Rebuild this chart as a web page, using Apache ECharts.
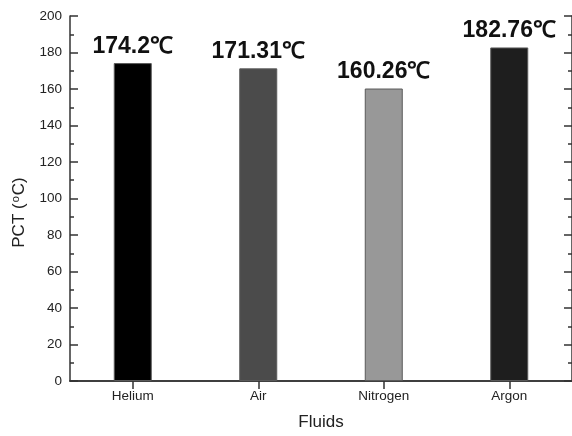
<!DOCTYPE html>
<html>
<head>
<meta charset="utf-8">
<script src="https://cdn.jsdelivr.net/npm/echarts@6/dist/echarts.min.js"></script>
<style>
html,body{margin:0;padding:0;background:#fff;}
#chart{width:572px;height:436px;}
</style>
</head>
<body>
<div id="chart"></div>
<script>
const categories = ["Helium", "Air", "Nitrogen", "Argon"];
const pctValues = [174.2, 171.31, 160.26, 182.76];
const valueLabels = ["174.2℃", "171.31℃", "160.26℃", "182.76℃"];
const barColors = ["#000000", "#4b4b4b", "#989898", "#1e1e1e"];
const yTicks = { min: 0, max: 200, interval: 20 };

const chart = echarts.init(document.getElementById('chart'), null, {renderer: 'canvas'});
const axisColor = '#333';
const font = '"Liberation Sans", Arial, sans-serif';

chart.setOption({
  animation: false,
  backgroundColor: '#fff',
  grid: { left: 70, right: 0, top: 16, bottom: 50, containLabel: false },
  xAxis: [{
    type: 'category',
    data: categories,
    name: 'Fluids',
    nameLocation: 'middle',
    nameGap: 33,
    nameTextStyle: { fontFamily: font, fontSize: 17, color: '#222' },
    axisLine: { show: true, lineStyle: { color: axisColor, width: 1.5 } },
    axisTick: { show: true, inside: true, alignWithLabel: true, length: 8, lineStyle: { color: axisColor, width: 1.5 } },
    axisLabel: { fontFamily: font, fontSize: 13.5, color: '#222', margin: 8 },
    splitLine: { show: false }
  }, {
    type: 'category',
    data: categories,
    position: 'top',
    axisLine: { show: true, lineStyle: { color: axisColor, width: 1.5 } },
    axisTick: { show: true, inside: true, alignWithLabel: true, length: 8, lineStyle: { color: axisColor, width: 1.5 } },
    axisLabel: { show: false },
    splitLine: { show: false }
  }],
  yAxis: [{
    type: 'value',
    min: yTicks.min, max: yTicks.max, interval: yTicks.interval,
    name: 'PCT ({sup|o}C)',
    nameLocation: 'middle',
    nameGap: 41,
    nameTextStyle: {
      fontFamily: font, fontSize: 17, color: '#222', padding: [0, 28, 0, 0],
      rich: { sup: { fontFamily: font, fontSize: 11, color: '#222', verticalAlign: 'top', padding: [0, 1, 8, 1] } }
    },
    axisLine: { show: true, lineStyle: { color: axisColor, width: 1.5 } },
    axisTick: { show: true, inside: true, length: 8, lineStyle: { color: axisColor, width: 1.5 } },
    minorTick: { show: true, splitNumber: 2, length: 4, lineStyle: { color: axisColor, width: 1.5 } },
    axisLabel: { fontFamily: font, fontSize: 13.5, color: '#222', margin: 8 },
    splitLine: { show: false }
  }, {
    type: 'value',
    position: 'right',
    min: yTicks.min, max: yTicks.max, interval: yTicks.interval,
    axisLine: { show: true, lineStyle: { color: axisColor, width: 1.5 } },
    axisTick: { show: true, inside: true, length: 8, lineStyle: { color: axisColor, width: 1.5 } },
    minorTick: { show: true, splitNumber: 2, length: 4, lineStyle: { color: axisColor, width: 1.5 } },
    axisLabel: { show: false },
    splitLine: { show: false }
  }],
  series: [{
    type: 'bar',
    xAxisIndex: 0,
    yAxisIndex: 0,
    barWidth: 38,
    data: pctValues.map((v, i) => ({
      value: v,
      itemStyle: { color: barColors[i], borderColor: '#5a5a5a', borderWidth: 1 }
    })),
    label: {
      show: true,
      position: 'top',
      distance: 5,
      fontFamily: font,
      fontSize: 23,
      fontWeight: 'bold',
      color: '#111',
      formatter: p => valueLabels[p.dataIndex]
    }
  }]
});
</script>
</body>
</html>
